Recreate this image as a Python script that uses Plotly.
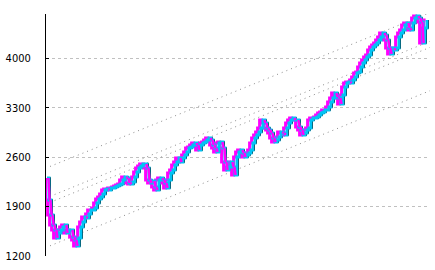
import plotly.graph_objects as go

# Index values (one sample every ~2 px of the original)
close = [2305, 1994, 1781, 1639, 1568, 1455, 1526, 1568, 1611, 1639,
         1526, 1568, 1568, 1469, 1427, 1342, 1455, 1611, 1682, 1753,
         1738, 1795, 1852, 1852, 1880, 1951, 2008, 2036, 2079, 2135,
         2149, 2135, 2164, 2164, 2178, 2192, 2206, 2220, 2277, 2319,
         2305, 2234, 2220, 2249, 2319, 2390, 2447, 2475, 2504, 2504,
         2447, 2277, 2234, 2263, 2178, 2135, 2277, 2305, 2277, 2234,
         2164, 2277, 2376, 2419, 2489, 2532, 2589, 2532, 2589, 2631,
         2674, 2730, 2745, 2773, 2801, 2773, 2702, 2773, 2801, 2815,
         2844, 2872, 2844, 2773, 2730, 2674, 2801, 2815, 2730, 2532,
         2419, 2461, 2532, 2461, 2348, 2603, 2674, 2702, 2660, 2603,
         2631, 2660, 2702, 2801, 2872, 2915, 2957, 3014, 3127, 3085,
         3014, 2985, 2943, 2872, 2815, 2844, 2886, 2957, 2943, 2915,
         3014, 3085, 3127, 3155, 3127, 3127, 3028, 2985, 2915, 2943,
         2985, 3014, 3127, 3155, 3155, 3170, 3198, 3226, 3240, 3269,
         3269, 3311, 3382, 3439, 3510, 3453, 3439, 3354, 3481, 3595,
         3651, 3666, 3651, 3694, 3736, 3793, 3807, 3878, 3935, 3977,
         4020, 4048, 4119, 4162, 4190, 4218, 4261, 4303, 4360, 4332,
         4261, 4147, 4062, 4147, 4119, 4147, 4303, 4360, 4402, 4473,
         4502, 4431, 4402, 4502, 4572, 4601, 4572, 4516, 4218, 4431,
         4544]

# Trend channel lines (start, end)
trend_x = [1.5, 191.5]
trend_a = [2469, 4650]
trend_b = [2044, 4243]
trend_c = [1959, 4157]
trend_d = [1344, 3543]

y_ticks = [1200, 1900, 2600, 3300, 4000]
y_labels = ["1200", "1900", "2600", "3300", "4000"]

x = list(range(len(close)))
x_shadow = [i + 0.6 for i in x]
x_mag = [i - 0.7 for i in x]

# down-move segments (drawn in magenta)
down_x, down_y = [], []
for i in range(1, len(close)):
    if close[i] < close[i - 1]:
        down_x += [i - 0.3, i + 0.3, None]
        down_y += [close[i - 1], close[i], None]

fig = go.Figure()

for ty in (trend_a, trend_b, trend_c, trend_d):
    fig.add_trace(go.Scatter(
        x=trend_x, y=ty, mode="lines",
        line=dict(color="#8c8c8c", width=1, dash="1px,4px"),
        hoverinfo="skip", showlegend=False))

# dark shadow under the band
fig.add_trace(go.Scatter(
    x=x_shadow, y=close, mode="lines",
    line=dict(color="black", width=1.5, shape="hv"),
    hoverinfo="skip", showlegend=False))

# magenta edge peeking out of the band
fig.add_trace(go.Scatter(
    x=x_mag, y=close, mode="lines",
    line=dict(color="#ff00ff", width=3, shape="vh"),
    hoverinfo="skip", showlegend=False))

# cyan body of the band
fig.add_trace(go.Scatter(
    x=x, y=close, mode="lines",
    line=dict(color="#00c4f4", width=3, shape="hv"),
    hoverinfo="skip", showlegend=False))

# magenta down moves
fig.add_trace(go.Scatter(
    x=down_x, y=down_y, mode="lines", connectgaps=False,
    line=dict(color="#ff00ff", width=2.5),
    hoverinfo="skip", showlegend=False))

fig.update_layout(
    width=435, height=270,
    margin=dict(l=46, r=5, t=14, b=14),
    paper_bgcolor="white", plot_bgcolor="white",
    showlegend=False,
    xaxis=dict(visible=False, range=[-0.5, 191.5]),
    yaxis=dict(
        range=[1200, 4630],
        tickvals=y_ticks, ticktext=y_labels,
        showgrid=True, gridcolor="#c0c0c0", griddash="3px,3px", gridwidth=1,
        zeroline=False,
        showline=True, linecolor="black", linewidth=1,
        ticks="inside", ticklen=3, tickcolor="black",
        ticklabelstandoff=12,
        tickfont=dict(family="Liberation Sans Narrow, DejaVu Sans Condensed, sans-serif",
                      size=11, color="black"),
    ),
)

fig.write_html("out.html")
